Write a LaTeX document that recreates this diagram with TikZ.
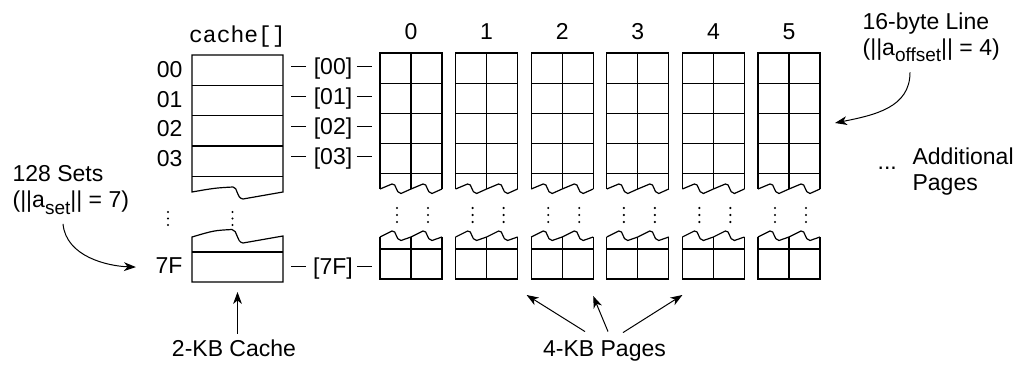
\documentclass[tikz,border=0pt]{standalone}
\usepackage{fontspec}
\setmainfont{Liberation Sans}
\setmonofont{Liberation Mono}
\usetikzlibrary{arrows.meta,calc}
\newcommand\subtag[1]{\raisebox{-3.2pt}{\fontsize{9.5}{10}\selectfont #1}}

\begin{document}
\begin{tikzpicture}[
  x=0.5pt,y=-0.5pt,
  font=\fontsize{11.5}{13}\selectfont,
  line width=0.6pt,
  lbl/.style={inner sep=0pt, anchor=base},
  note/.style={inner sep=0pt, align=left, anchor=north west},
  pointer/.style={-{Stealth[length=6pt,width=4.4pt,inset=1.8pt]}, line width=0.5pt},
  tick/.style={line width=0.5pt}
]
\useasboundingbox (0,0) rectangle (1021,367);

% Cache array: sets 00-03 on top, set 7F below
\node[lbl, font=\fontsize{11.5}{13}\selectfont\ttfamily] (cacheName) at (237.5,43) {cache[]};
\draw (192,192) -- (192,55) -- (283,55) -- (283,192) -- (243,199)
  .. controls (236,198) and (238,187) .. (233,187)
  .. controls (215,188) .. (192,192) -- cycle;
\foreach \r in {85.3,115.7,146,176.3} \draw (192,\r) -- (283,\r);
\draw (192,237) -- (192,282) -- (283,282) -- (283,236) -- (243,243)
  .. controls (236,242) and (238,230) .. (232,229.5)
  .. controls (214,230.5) .. (192,237) -- cycle;
\draw (192,252) -- (283,252);
\foreach \y in {212,218.5,225}{
  \fill (168,\y) circle (0.6pt);
  \fill (232.5,\y) circle (0.6pt);
}

% Set numbers and index ticks
\foreach \k/\b in {00/78,01/107.5,02/137,03/167,7F/274}
  \node[lbl, anchor=base east] (set\k) at (183,\b) {\k};
\foreach \k/\b in {00/75,01/105,02/135,03/165,7F/275}{
  \node[lbl] (idx\k) at (333,\b) {[\k]};
  \draw[tick] ($(idx\k.base west)+(-7,-8)$) -- ++(-15,0);
  \draw[tick] ($(idx\k.base east)+(4,-8)$) -- ++(15,0);
}

% Pages 0-5, two lines wide
\foreach \p in {0,...,5}{
  \pgfmathsetmacro\px{380+75.6*\p}
  \node[lbl] (num\p) at (\px+31,40) {\p};
  \coordinate (page\p) at (\px,279);
  \draw (\px,189) -- (\px,53) -- (\px+62,53) -- (\px+62,189);
  \draw (\px+31,53) -- (\px+31,189);
  \foreach \r in {83.3,113.5,143.7,173.9} \draw (\px,\r) -- (\px+62,\r);
  \draw (\px,237) -- (\px,279) -- (\px+62,279) -- (\px+62,237);
  \draw (\px+31,237) -- (\px+31,279);
  \draw (\px,249) -- (\px+62,249);
  % torn edges and skipped lines
  \foreach \c in {0,31}{
    \draw (\px+\c,189) .. controls (\px+\c+6,187) .. (\px+\c+12,184)
      .. controls (\px+\c+17,183) and (\px+\c+15,193) .. (\px+\c+21,193.5) -- (\px+\c+31,189);
    \draw (\px+\c,237) .. controls (\px+\c+6,234) .. (\px+\c+12,231)
      .. controls (\px+\c+17,230) and (\px+\c+15,240) .. (\px+\c+21,240.5) -- (\px+\c+31,237);
    \foreach \y in {208,215,222} \fill (\px+\c+17,\y) circle (0.6pt);
  }
}

% Annotations
\node[note] (setsLbl) at (12,165) {128 Sets\\(||a\subtag{set}|| = 7)};
\node[note] (lineLbl) at (862,12) {16-byte Line\\(||a\subtag{offset}|| = 4)};
\node[lbl, anchor=base west] (moreDots) at (877,170) {...};
\node[note] (moreLbl) at (912,147) {Additional\\Pages};
\node[lbl] (cacheSize) at (234,357) {2-KB Cache};
\node[lbl] (pagesSize) at (604.5,357) {4-KB Pages};

\coordinate (cacheBase) at (237.5,292);
\coordinate (lineTip) at (835,123);

\draw[pointer] ($(setsLbl.south west)+(51,9)$) .. controls +(3,33) and +(-28,-1) .. ($(set7F.west)+(-19,1)$);
\draw[pointer] ($(lineLbl.south west)+(48,10)$) .. controls +(0,35) and +(40,-8) .. (lineTip);
\draw[pointer] (cacheSize.north -| cacheBase) ++(0,-6) -- (cacheBase);
\draw[pointer] ($(pagesSize.north)+(-19.5,-9)$) -- ($(page1)+(71,16)$);
\draw[pointer] ($(pagesSize.north)+(3.5,-9)$) -- ($(page2)+(62,17)$);
\draw[pointer] ($(pagesSize.north)+(18.5,-8)$) -- ($(page4)+(0,16)$);

\end{tikzpicture}
\end{document}
